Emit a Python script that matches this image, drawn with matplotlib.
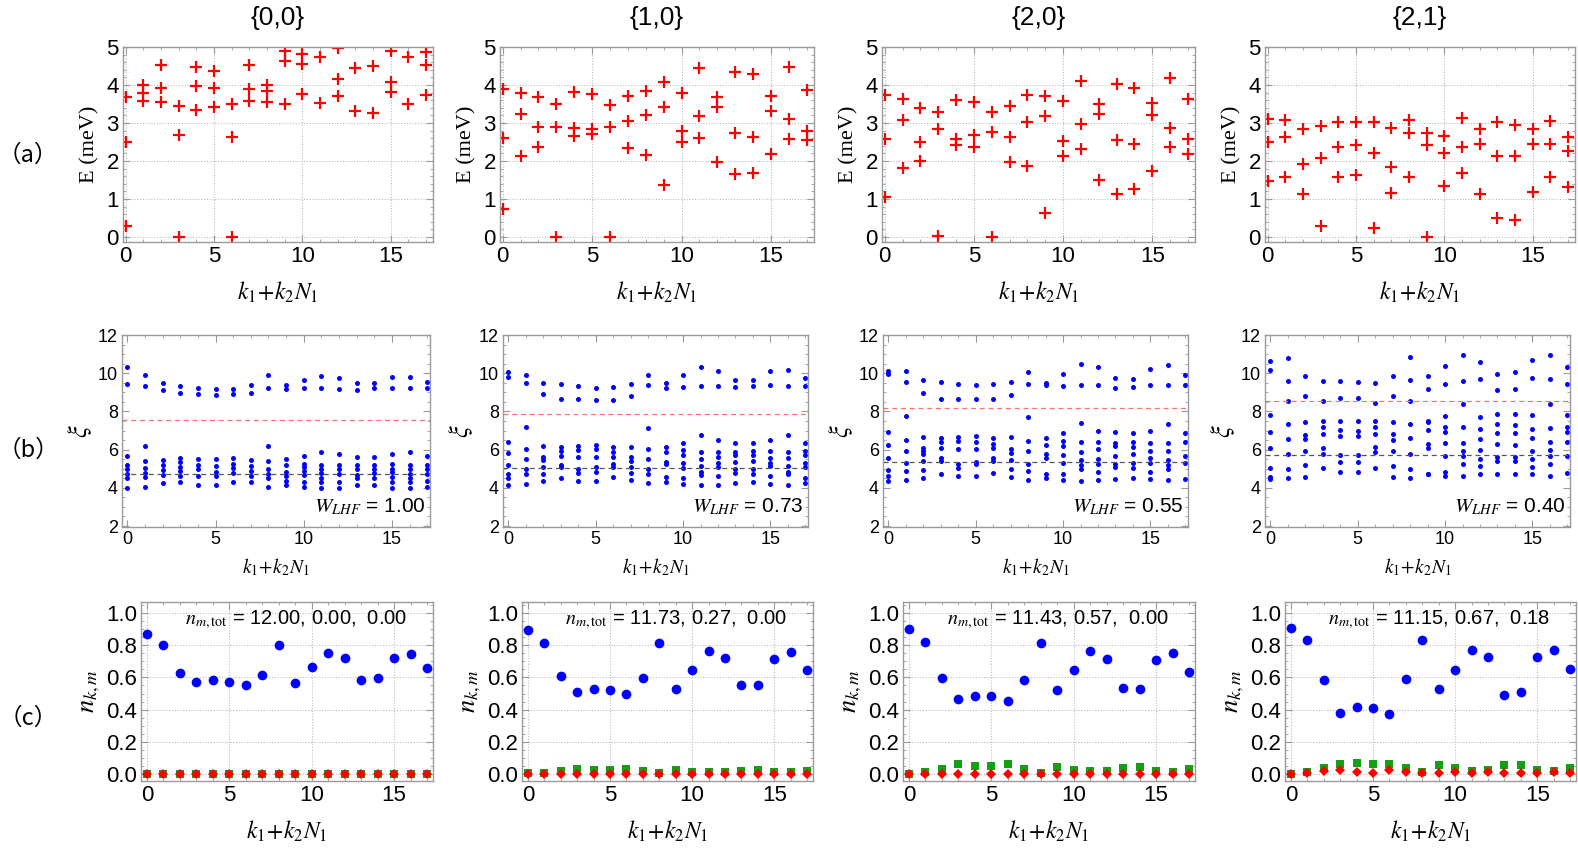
import matplotlib
matplotlib.use("Agg")
import matplotlib.pyplot as plt
from matplotlib.ticker import MultipleLocator

plt.rcParams['mathtext.fontset'] = 'stix'
plt.rcParams['font.family'] = ['Liberation Sans', 'DejaVu Sans']

titles = ["{0,0}", "{1,0}", "{2,0}", "{2,1}"]
k_vals = list(range(18))

# ---- row (a): energies (meV), per k ----
E_00 = [[3.68, 2.49, 0.30], [4.00, 3.79, 3.58], [4.52, 3.92, 3.55], [3.45, 2.69, 0.00],
        [4.47, 3.98, 3.34], [4.38, 3.93, 3.42], [3.49, 2.64, 0.00], [4.52, 3.89, 3.57],
        [3.99, 3.83, 3.55], [4.90, 4.62, 3.49], [4.82, 4.54, 3.76], [4.74, 3.53],
        [4.97, 4.15, 3.71], [4.45, 3.32], [4.49, 3.27], [4.90, 4.09, 3.81],
        [4.74, 3.49], [4.86, 4.53, 3.74]]
E_10 = [[3.89, 2.61, 0.74], [3.80, 3.25, 2.14], [3.69, 2.90, 2.36], [3.49, 2.90, 0.00],
        [3.82, 2.87, 2.65], [3.77, 2.85, 2.71], [3.47, 2.90, 0.00], [3.71, 3.05, 2.35],
        [3.84, 3.22, 2.15], [4.07, 3.41, 1.36], [3.79, 2.78, 2.50], [4.44, 3.18, 2.60],
        [3.69, 3.41, 1.98], [4.34, 2.73, 1.65], [4.28, 2.64, 1.68], [3.71, 3.32, 2.18],
        [4.47, 3.11, 2.58], [3.87, 2.79, 2.55]]
E_20 = [[3.73, 2.59, 1.05], [3.63, 3.08, 1.81], [3.39, 2.49, 2.01], [3.29, 2.84, 0.04],
        [3.61, 2.57, 2.43], [3.56, 2.68, 2.38], [3.29, 2.76, 0.00], [3.45, 2.64, 1.97],
        [3.73, 3.03, 1.88], [3.70, 3.19, 0.64], [3.57, 2.54, 2.14], [4.11, 2.98, 2.31],
        [3.49, 3.23, 1.51], [4.02, 2.55, 1.14], [3.93, 2.46, 1.26], [3.52, 3.21, 1.75],
        [4.19, 2.86, 2.36], [3.64, 2.59, 2.19]]
E_21 = [[3.11, 2.50, 1.48], [3.08, 2.64, 1.58], [2.83, 1.93, 1.13], [2.92, 2.09, 0.29],
        [3.04, 2.37, 1.59], [3.04, 2.42, 1.64], [3.03, 2.21, 0.25], [2.86, 1.84, 1.15],
        [3.08, 2.73, 1.58], [2.73, 2.42, 0.00], [2.66, 2.21, 1.35], [3.12, 2.36, 1.69],
        [2.84, 2.45, 1.13], [3.04, 2.13, 0.50], [2.94, 2.14, 0.44], [2.84, 2.46, 1.18],
        [3.06, 2.44, 1.59], [2.62, 2.26, 1.33]]

# ---- row (b): entanglement spectra, per k ----
xi_00 = [[10.31, 9.41, 5.65, 5.20, 4.96, 4.73, 4.49, 4.00],
         [9.93, 9.32, 6.17, 5.43, 5.03, 4.80, 4.56, 4.03],
         [9.48, 9.10, 5.44, 5.17, 4.92, 4.68, 4.26],
         [9.34, 8.99, 5.58, 5.34, 5.11, 4.87, 4.63, 4.30],
         [9.23, 8.90, 5.51, 5.18, 4.96, 4.64, 4.16],
         [9.15, 8.87, 5.51, 5.13, 4.85, 4.61, 4.16],
         [9.15, 8.90, 5.55, 5.27, 5.04, 4.78, 4.33],
         [9.37, 8.99, 5.44, 5.15, 4.89, 4.64, 4.30],
         [9.91, 9.23, 6.17, 5.43, 4.99, 4.75, 4.50, 4.03],
         [9.39, 9.17, 5.53, 5.18, 4.82, 4.61, 4.37, 4.14],
         [9.65, 9.20, 5.69, 5.27, 5.08, 4.87, 4.68, 4.33, 4.05],
         [9.86, 9.22, 5.86, 5.20, 4.97, 4.78, 4.54, 4.30, 3.98],
         [9.74, 9.17, 5.76, 5.20, 4.97, 4.75, 4.33, 4.00],
         [9.48, 9.13, 5.62, 5.18, 4.97, 4.66, 4.49, 4.16],
         [9.51, 9.20, 5.62, 5.22, 4.97, 4.78, 4.52, 4.14],
         [9.79, 9.23, 5.76, 5.25, 5.00, 4.82, 4.59, 4.30, 4.00],
         [9.81, 9.20, 5.86, 5.20, 5.00, 4.73, 4.52, 4.31, 4.00],
         [9.53, 9.20, 5.69, 5.20, 4.96, 4.70, 4.37, 4.05]]
xi_10 = [[10.05, 9.81, 6.38, 5.83, 5.18, 4.75, 4.52, 4.17],
         [9.93, 9.48, 7.17, 6.03, 5.51, 4.96, 4.73, 4.21],
         [9.51, 8.92, 6.17, 5.62, 5.44, 5.08, 4.75, 4.37],
         [9.46, 8.66, 6.16, 5.93, 5.69, 5.20, 5.08, 4.50],
         [9.32, 8.63, 6.21, 6.00, 5.63, 5.00, 4.77, 4.37],
         [9.25, 8.59, 6.23, 6.03, 5.63, 5.08, 4.82, 4.37],
         [9.30, 8.59, 6.12, 5.88, 5.60, 5.25, 5.10, 4.56],
         [9.46, 8.82, 6.12, 5.62, 5.43, 5.11, 4.78, 4.42],
         [9.93, 9.36, 7.15, 6.02, 5.53, 4.96, 4.75, 4.23],
         [9.48, 9.22, 6.16, 5.88, 5.37, 5.27, 4.59, 4.30],
         [9.90, 9.29, 6.37, 5.97, 5.72, 5.30, 5.03, 4.50, 4.19],
         [10.30, 9.32, 6.78, 5.90, 5.53, 5.13, 4.85, 4.68, 4.14],
         [10.12, 9.32, 6.49, 5.88, 5.62, 5.30, 5.11, 4.61, 4.17],
         [9.65, 9.27, 6.37, 5.90, 5.72, 5.34, 4.96, 4.78, 4.26],
         [9.65, 9.32, 6.35, 5.92, 5.71, 5.39, 4.96, 4.75, 4.28],
         [10.09, 9.36, 6.49, 5.93, 5.58, 5.29, 5.13, 4.61, 4.19],
         [10.16, 9.32, 6.75, 5.86, 5.55, 5.13, 4.85, 4.71, 4.17],
         [9.76, 9.32, 6.37, 5.93, 5.72, 5.30, 5.11, 4.54, 4.23]]
xi_20 = [[10.12, 9.95, 6.90, 6.24, 5.58, 4.92, 4.61, 4.37],
         [10.09, 9.55, 7.74, 6.49, 5.95, 5.29, 4.87, 4.40],
         [9.62, 8.96, 6.68, 6.09, 5.93, 5.77, 5.41, 4.94, 4.52],
         [9.55, 8.64, 6.63, 6.38, 6.10, 5.57, 5.39, 4.75],
         [9.43, 8.64, 6.66, 6.43, 6.05, 5.25, 5.04, 4.61],
         [9.37, 8.64, 6.70, 6.42, 6.03, 5.37, 5.23, 4.61],
         [9.43, 8.63, 6.61, 6.31, 6.07, 5.58, 5.41, 4.80],
         [9.55, 8.85, 6.65, 6.02, 5.84, 5.46, 5.00, 4.56],
         [10.07, 9.43, 7.70, 6.47, 5.93, 5.25, 4.90, 4.42],
         [9.50, 9.36, 6.63, 6.26, 5.77, 5.58, 4.73, 4.49],
         [9.98, 9.34, 6.85, 6.43, 6.19, 5.70, 5.30, 4.73, 4.42],
         [10.50, 9.39, 7.37, 6.40, 5.90, 5.46, 5.20, 5.00, 4.35],
         [10.30, 9.39, 6.97, 6.38, 6.02, 5.53, 5.25, 4.83, 4.42],
         [9.76, 9.25, 6.90, 6.37, 6.19, 5.69, 5.27, 5.11, 4.47],
         [9.72, 9.27, 6.87, 6.38, 6.14, 5.77, 5.29, 5.06, 4.49],
         [10.23, 9.39, 6.96, 6.37, 5.95, 5.55, 5.29, 4.82, 4.45],
         [10.42, 9.37, 7.36, 6.37, 5.93, 5.48, 5.18, 5.00, 4.42],
         [9.91, 9.37, 6.87, 6.38, 5.65, 5.30, 4.47]]
xi_21 = [[10.63, 10.16, 7.83, 6.94, 6.07, 5.03, 4.57, 4.47],
         [10.82, 9.60, 8.56, 7.34, 6.57, 5.76, 4.99, 4.50],
         [9.88, 8.80, 7.44, 6.77, 6.54, 5.93, 5.17, 4.56],
         [9.57, 8.56, 7.48, 7.17, 6.83, 6.10, 5.79, 5.03],
         [9.57, 8.68, 7.51, 7.01, 6.73, 5.74, 5.37, 4.83],
         [9.55, 8.68, 7.48, 6.99, 6.73, 5.74, 5.37, 4.83],
         [9.50, 8.45, 7.50, 7.17, 6.83, 6.12, 5.90, 5.03],
         [9.88, 8.80, 7.44, 6.80, 6.50, 5.91, 5.13, 4.56],
         [10.85, 9.65, 8.56, 7.34, 6.61, 5.76, 4.99, 4.49],
         [9.88, 9.15, 7.51, 7.42, 7.04, 6.30, 6.10, 4.75, 4.70],
         [10.40, 9.43, 7.76, 7.20, 6.94, 6.37, 5.67, 4.82, 4.61],
         [10.96, 9.58, 8.38, 7.20, 6.37, 5.93, 5.69, 5.25, 4.64],
         [10.61, 9.69, 7.72, 7.10, 6.57, 5.98, 5.53, 5.15, 4.73],
         [9.97, 9.10, 7.84, 7.34, 6.89, 6.28, 5.63, 5.43, 4.75],
         [10.07, 9.15, 7.86, 7.29, 6.89, 6.24, 5.63, 5.39, 4.75],
         [10.68, 9.77, 7.79, 7.10, 6.59, 5.93, 5.51, 5.11, 4.73],
         [10.94, 9.69, 8.40, 7.13, 6.38, 5.98, 5.67, 5.25, 4.61],
         [10.33, 9.44, 7.83, 7.17, 6.90, 6.42, 5.69, 4.77]]
xi_red_line = [7.55, 7.86, 8.17, 8.56]
xi_black_line = [4.75, 5.04, 5.34, 5.74]
W_LHF = [1.00, 0.73, 0.55, 0.40]

# ---- row (c): occupations ----
n_blue_00 = [0.87, 0.80, 0.63, 0.573, 0.581, 0.573, 0.55, 0.617, 0.80, 0.567, 0.662, 0.753, 0.72, 0.586, 0.594, 0.72, 0.748, 0.66]
n_green_00 = [0.0] * 18
n_red_00 = [0.0] * 18
n_blue_10 = [0.895, 0.815, 0.607, 0.508, 0.525, 0.521, 0.496, 0.595, 0.815, 0.529, 0.649, 0.765, 0.723, 0.55, 0.55, 0.716, 0.756, 0.643]
n_green_10 = [0.006, 0.008, 0.019, 0.03, 0.025, 0.027, 0.034, 0.019, 0.008, 0.023, 0.015, 0.013, 0.01, 0.021, 0.023, 0.013, 0.01, 0.019]
n_red_10 = [0.0] * 18
n_blue_20 = [0.899, 0.819, 0.599, 0.464, 0.483, 0.483, 0.456, 0.584, 0.814, 0.523, 0.643, 0.762, 0.717, 0.536, 0.53, 0.705, 0.751, 0.635]
n_green_20 = [0.002, 0.01, 0.034, 0.061, 0.053, 0.053, 0.063, 0.032, 0.008, 0.046, 0.027, 0.019, 0.017, 0.04, 0.046, 0.019, 0.01, 0.03]
n_red_20 = [0.0] * 18
n_blue_21 = [0.905, 0.831, 0.581, 0.377, 0.415, 0.413, 0.373, 0.591, 0.833, 0.528, 0.648, 0.771, 0.725, 0.492, 0.511, 0.729, 0.773, 0.65]
n_green_21 = [0.0, 0.01, 0.04, 0.064, 0.066, 0.064, 0.064, 0.038, 0.013, 0.059, 0.038, 0.021, 0.023, 0.055, 0.055, 0.025, 0.021, 0.04]
n_red_21 = [0.002, 0.006, 0.019, 0.028, 0.011, 0.008, 0.028, 0.015, 0.006, 0.004, 0.013, 0.006, 0.011, 0.006, 0.006, 0.008, 0.011, 0.008]
n_tot_labels = ["12.00, 0.00,  0.00", "11.73, 0.27,  0.00", "11.43, 0.57,  0.00", "11.15, 0.67,  0.18"]

E_all = [E_00, E_10, E_20, E_21]
xi_all = [xi_00, xi_10, xi_20, xi_21]
nb_all = [n_blue_00, n_blue_10, n_blue_20, n_blue_21]
ng_all = [n_green_00, n_green_10, n_green_20, n_green_21]
nr_all = [n_red_00, n_red_10, n_red_20, n_red_21]

W, H = 1578, 851
fig = plt.figure(figsize=(W / 100, H / 100), dpi=100)

def box(x0, x1, y0, y1):
    return [x0 / W, 1 - y1 / H, (x1 - x0) / W, (y1 - y0) / H]

rowa_x = [(123, 433), (500, 814), (882, 1195), (1265, 1575)]
rowb_x = [(122, 430), (503, 808), (883, 1188), (1265, 1570)]
rowc_x = [(141, 433), (522, 813), (903, 1195), (1285, 1576)]
FRAME = '#9a9a9a'

def style(ax, fs, grid=True):
    for s in ax.spines.values():
        s.set_color(FRAME)
        s.set_linewidth(1.0)
    ax.tick_params(which='both', direction='in', top=True, right=True, color=FRAME,
                   labelsize=fs, labelcolor='black', pad=3)
    ax.tick_params(which='major', length=5, width=0.8)
    ax.tick_params(which='minor', length=2.5, width=0.6)
    ax.xaxis.set_major_locator(MultipleLocator(5))
    ax.xaxis.set_minor_locator(MultipleLocator(1))
    if grid:
        ax.grid(True, which='major', color='#bdbdbd', linestyle=(0, (1, 1.5)), linewidth=0.8)
    ax.set_axisbelow(True)

serif = ['Liberation Serif', 'DejaVu Serif']
klabel = r'$k_1\!+\!k_2N_1$'

for i in range(4):
    # row a
    ax = fig.add_axes(box(rowa_x[i][0], rowa_x[i][1], 47, 242))
    style(ax, 16)
    for k, Es in zip(k_vals, E_all[i]):
        ax.plot([k] * len(Es), Es, linestyle='none', marker='+', color='red',
                markersize=8, markeredgewidth=1.6)
    ax.set_xlim(-0.15, 17.4)
    ax.set_ylim(-0.13, 5.0)
    ax.yaxis.set_major_locator(MultipleLocator(1))
    ax.yaxis.set_minor_locator(MultipleLocator(0.2))
    ax.set_ylabel('E (meV)', family=serif, fontsize=16, labelpad=5)
    ax.set_xlabel(klabel, fontsize=17, labelpad=9)
    fig.text((sum(rowa_x[i]) / 2) / W, 1 - 18 / H, titles[i], ha='center', va='center', fontsize=19)

    # row b
    ax = fig.add_axes(box(rowb_x[i][0], rowb_x[i][1], 335, 527))
    style(ax, 13, grid=False)
    for k, xs in zip(k_vals, xi_all[i]):
        ax.plot([k] * len(xs), xs, linestyle='none', marker='o', color='blue',
                markersize=3.6, markeredgewidth=0)
    ax.axhline(xi_red_line[i], color='#ff7070', linestyle=(0, (4, 3)), linewidth=0.9)
    ax.axhline(xi_black_line[i], color='#555555', linestyle=(0, (4, 3)), linewidth=0.9)
    ax.set_xlim(-0.3, 17.15)
    ax.set_ylim(1.95, 12.0)
    ax.yaxis.set_major_locator(MultipleLocator(2))
    ax.yaxis.set_minor_locator(MultipleLocator(0.5))
    ax.set_ylabel(r'$\xi$', fontsize=19, labelpad=3)
    ax.set_xlabel(klabel, fontsize=14, labelpad=6)
    ax.text(0.985, 0.05, r'$W_{LHF}$' + ' = %.2f' % W_LHF[i], transform=ax.transAxes,
            ha='right', va='bottom', fontsize=15)

    # row c
    ax = fig.add_axes(box(rowc_x[i][0], rowc_x[i][1], 602, 781))
    style(ax, 16)
    ax.plot(k_vals, ng_all[i], linestyle='none', marker='s', color='#14a014',
            markersize=5.2, markeredgewidth=0)
    ax.plot(k_vals, nr_all[i], linestyle='none', marker='D', color='red',
            markersize=5.0, markeredgewidth=0)
    ax.plot(k_vals, nb_all[i], linestyle='none', marker='o', color='blue',
            markersize=7, markeredgewidth=0)
    ax.set_xlim(-0.36, 17.36)
    ax.set_ylim(-0.043, 1.068)
    ax.yaxis.set_major_locator(MultipleLocator(0.2))
    ax.yaxis.set_minor_locator(MultipleLocator(0.05))
    ax.set_ylabel(r'$n_{k,m}$', fontsize=19, labelpad=3)
    ax.set_xlabel(klabel, fontsize=17, labelpad=9)
    ax.text(0.53, 0.9, r'$n_{m,\mathrm{tot}}$' + ' = ' + n_tot_labels[i], transform=ax.transAxes,
            ha='center', va='center', fontsize=14.5)

row_lab_fam = ['Noto Sans CJK SC', 'DejaVu Sans']
for lab, y in [('（a）', 155), ('（b）', 450), ('（c）', 718)]:
    fig.text(28 / W, 1 - y / H, lab, ha='center', va='center', fontsize=17, family=row_lab_fam)

fig.savefig('out.png', dpi=100)
